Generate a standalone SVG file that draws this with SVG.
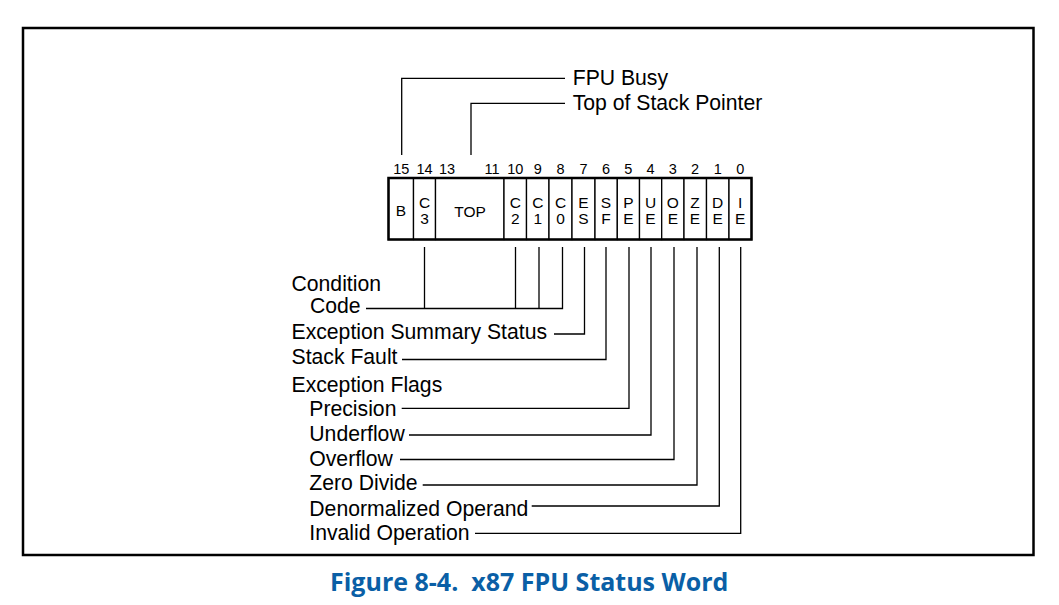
<svg xmlns="http://www.w3.org/2000/svg" width="1059" height="605" viewBox="0 0 1059 605">
<style>
.t{font-family:"Liberation Sans",Arial,sans-serif;font-size:21.2px;fill:#000}
.bn{font-family:"Liberation Sans",Arial,sans-serif;font-size:14.5px;fill:#000;text-anchor:middle}
.cl{font-family:"Liberation Sans",Arial,sans-serif;font-size:15.5px;fill:#000;text-anchor:middle}
.cell{fill:#fff;stroke:#000;stroke-width:1.3}
.ln{fill:none;stroke:#000;stroke-width:1.3}
.cap{font-family:"Open Sans","Noto Sans",sans-serif;font-weight:bold;font-size:25px;fill:#0a5fa6}
</style>
<rect x="23" y="28" width="1010.5" height="527" fill="#fff" stroke="#000" stroke-width="2.5"/>

<g id="bit-numbers">
<text class="bn" x="401.3" y="174">15</text>
<text class="bn" x="424.5" y="174">14</text>
<text class="bn" x="447" y="174">13</text>
<text class="bn" x="492" y="174">11</text>
<text class="bn" x="515.3" y="174">10</text>
<text class="bn" x="537.8" y="174">9</text>
<text class="bn" x="560.5" y="174">8</text>
<text class="bn" x="583.5" y="174">7</text>
<text class="bn" x="606" y="174">6</text>
<text class="bn" x="628.4" y="174">5</text>
<text class="bn" x="650.5" y="174">4</text>
<text class="bn" x="672.8" y="174">3</text>
<text class="bn" x="695" y="174">2</text>
<text class="bn" x="717.7" y="174">1</text>
<text class="bn" x="740.2" y="174">0</text>
</g>

<g id="register">
<g id="cell-B"><rect class="cell" x="388.5" y="178" width="25" height="61.5"/><text class="cl" x="401" y="216">B</text></g>
<g id="cell-C3"><rect class="cell" x="413.5" y="178" width="22" height="61.5"/><text class="cl" x="424.5" y="208">C</text><text class="cl" x="424.5" y="223.5">3</text></g>
<g id="cell-TOP"><rect class="cell" x="435.5" y="178" width="68.5" height="61.5"/><text class="cl" x="470" y="216.5">TOP</text></g>
<g id="cell-C2"><rect class="cell" x="504" y="178" width="22.5" height="61.5"/><text class="cl" x="515.3" y="208">C</text><text class="cl" x="515.3" y="223.5">2</text></g>
<g id="cell-C1"><rect class="cell" x="526.5" y="178" width="22.5" height="61.5"/><text class="cl" x="537.8" y="208">C</text><text class="cl" x="537.8" y="223.5">1</text></g>
<g id="cell-C0"><rect class="cell" x="549" y="178" width="23" height="61.5"/><text class="cl" x="560.5" y="208">C</text><text class="cl" x="560.5" y="223.5">0</text></g>
<g id="cell-ES"><rect class="cell" x="572" y="178" width="23" height="61.5"/><text class="cl" x="583.5" y="208">E</text><text class="cl" x="583.5" y="223.5">S</text></g>
<g id="cell-SF"><rect class="cell" x="595" y="178" width="22.3" height="61.5"/><text class="cl" x="606" y="208">S</text><text class="cl" x="606" y="223.5">F</text></g>
<g id="cell-PE"><rect class="cell" x="617.3" y="178" width="22.2" height="61.5"/><text class="cl" x="628.4" y="208">P</text><text class="cl" x="628.4" y="223.5">E</text></g>
<g id="cell-UE"><rect class="cell" x="639.5" y="178" width="22.2" height="61.5"/><text class="cl" x="650.5" y="208">U</text><text class="cl" x="650.5" y="223.5">E</text></g>
<g id="cell-OE"><rect class="cell" x="661.7" y="178" width="22.3" height="61.5"/><text class="cl" x="672.8" y="208">O</text><text class="cl" x="672.8" y="223.5">E</text></g>
<g id="cell-ZE"><rect class="cell" x="684" y="178" width="22.5" height="61.5"/><text class="cl" x="695" y="208">Z</text><text class="cl" x="695" y="223.5">E</text></g>
<g id="cell-DE"><rect class="cell" x="706.5" y="178" width="22.5" height="61.5"/><text class="cl" x="717.7" y="208">D</text><text class="cl" x="717.7" y="223.5">E</text></g>
<g id="cell-IE"><rect class="cell" x="729" y="178" width="22.5" height="61.5"/><text class="cl" x="740.2" y="208">I</text><text class="cl" x="740.2" y="223.5">E</text></g>
<rect x="388.5" y="178" width="363" height="61.5" fill="none" stroke="#000" stroke-width="2.5"/>
</g>

<g id="connectors">
<polyline class="ln" points="565,78.3 401.7,78.3 401.7,155"/>
<polyline class="ln" points="565,103.3 471,103.3 471,155"/>
<line class="ln" x1="424.5" y1="247" x2="424.5" y2="308.5"/>
<line class="ln" x1="515.5" y1="247" x2="515.5" y2="308.5"/>
<line class="ln" x1="539" y1="247" x2="539" y2="308.5"/>
<polyline class="ln" points="562.5,247 562.5,308.5 366,308.5"/>
<polyline class="ln" points="584.5,247 584.5,334 554,334"/>
<polyline class="ln" points="606,247 606,359.5 402,359.5"/>
<polyline class="ln" points="629,247 629,408.3 401.7,408.3"/>
<polyline class="ln" points="651,247 651,435 409,435"/>
<polyline class="ln" points="674,247 674,459.5 400,459.5"/>
<polyline class="ln" points="697,247 697,485 422.7,485"/>
<polyline class="ln" points="719.3,247 719.3,506 531.7,506"/>
<polyline class="ln" points="740.7,247 740.7,533.3 475,533.3"/>
</g>

<g id="label-fpu-busy"><text class="t" x="572.7" y="85">FPU Busy</text></g>
<g id="label-top"><text class="t" x="572.7" y="110">Top of Stack Pointer</text></g>
<g id="label-condition-code"><text class="t" x="291.5" y="290.5">Condition</text><text class="t" x="310" y="313">Code</text></g>
<g id="label-ess"><text class="t" x="291.5" y="339.3">Exception Summary Status</text></g>
<g id="label-sf"><text class="t" x="291.5" y="364">Stack Fault</text></g>
<g id="label-exc-flags"><text class="t" x="291.5" y="391.7">Exception Flags</text></g>
<g id="label-pe"><text class="t" x="309.3" y="415.7">Precision</text></g>
<g id="label-ue"><text class="t" x="309.3" y="440.7">Underflow</text></g>
<g id="label-oe"><text class="t" x="309.3" y="465.7">Overflow</text></g>
<g id="label-ze"><text class="t" x="309.3" y="490">Zero Divide</text></g>
<g id="label-de"><text class="t" x="309.3" y="515.7">Denormalized Operand</text></g>
<g id="label-ie"><text class="t" x="309.3" y="540">Invalid Operation</text></g>

<text class="cap" x="330" y="590.5" xml:space="preserve">Figure 8-4.  x87 FPU Status Word</text>
</svg>
